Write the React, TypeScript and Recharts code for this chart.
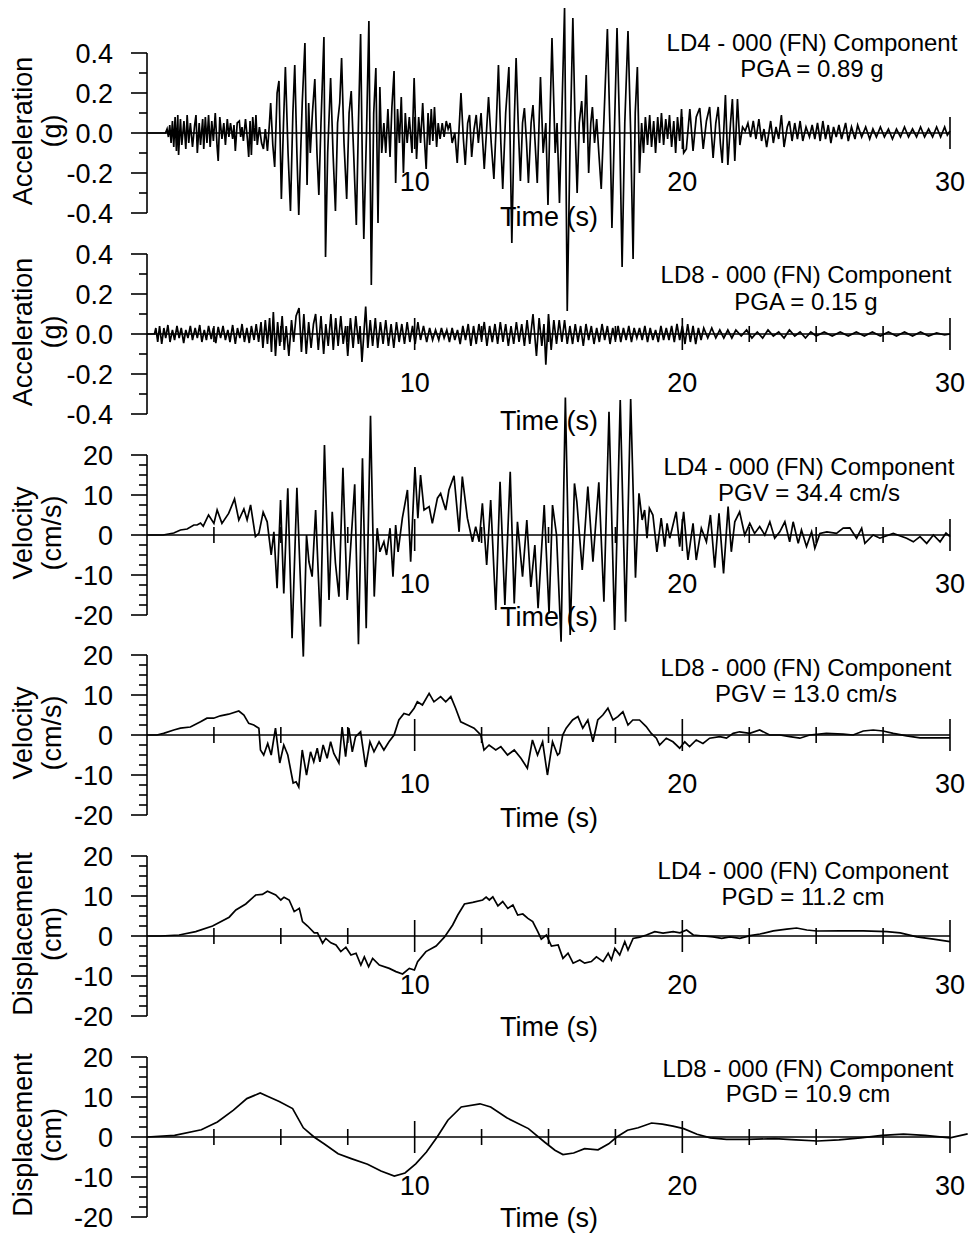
import React from 'react';
import { LineChart, Line, XAxis, YAxis, ReferenceLine } from 'recharts';

// [time (s), value] pairs
const ld4Acc: [number, number][] = [
  [0, 0], [0.69, 0], [0.75, 0.02], [0.8, -0.02], [0.85, 0.04], [0.9, -0.05], [0.95, 0.06], [1.0, -0.07],
  [1.05, 0.08], [1.1, -0.09], [1.15, 0.09], [1.18, -0.11], [1.25, 0.07], [1.3, -0.06], [1.38, 0.06],
  [1.45, -0.08], [1.5, 0.09], [1.56, -0.05], [1.62, 0.05], [1.7, -0.07], [1.78, 0.04], [1.83, 0.09],
  [1.88, -0.1], [1.95, 0.05], [2.0, -0.06], [2.08, 0.07], [2.12, -0.08], [2.18, 0.08], [2.24, -0.05],
  [2.3, 0.09], [2.36, -0.07], [2.42, 0.06], [2.48, -0.04], [2.55, 0.1], [2.62, -0.07], [2.66, -0.14],
  [2.72, 0.08], [2.8, -0.03], [2.87, 0.05], [2.93, -0.06], [3.0, 0.07], [3.06, -0.02], [3.12, 0.05],
  [3.2, -0.03], [3.25, 0.04], [3.3, -0.09], [3.37, 0.05], [3.45, 0.06], [3.5, -0.02], [3.55, 0.03],
  [3.6, -0.04], [3.68, 0.07], [3.75, -0.03], [3.8, -0.12], [3.85, 0.06], [3.9, -0.11], [3.95, 0.08],
  [4.02, -0.04], [4.07, 0.09], [4.12, -0.06], [4.2, 0.03], [4.28, -0.05], [4.35, -0.08], [4.42, 0.02],
  [4.5, -0.09], [4.57, 0.04], [4.62, 0.15], [4.7, -0.06], [4.77, -0.17], [4.86, 0.2], [4.93, 0.26],
  [5.02, -0.33], [5.1, 0.05], [5.17, 0.33], [5.27, -0.1], [5.36, -0.39], [5.45, 0.1], [5.52, 0.34],
  [5.6, -0.1], [5.67, -0.41], [5.74, -0.1], [5.8, 0.15], [5.9, 0.45], [5.98, -0.26], [6.04, 0.15],
  [6.1, -0.1], [6.18, 0.1], [6.27, 0.27], [6.35, -0.1], [6.42, -0.31], [6.5, 0.05], [6.61, 0.48],
  [6.67, -0.62], [6.75, -0.1], [6.86, 0.275], [6.95, -0.1], [7.04, -0.39], [7.12, 0.05], [7.2, 0.15],
  [7.27, 0.375], [7.36, -0.05], [7.46, -0.33], [7.55, 0.1], [7.63, 0.21], [7.72, -0.1], [7.82, -0.46],
  [7.9, 0.05], [7.98, 0.495], [8.05, -0.2], [8.1, -0.53], [8.2, 0.0], [8.29, 0.56], [8.38, -0.76],
  [8.47, 0.1], [8.55, 0.325], [8.63, -0.45], [8.7, 0.23], [8.77, -0.1], [8.85, 0.05], [8.92, -0.1],
  [9.0, 0.12], [9.08, -0.12], [9.15, 0.13], [9.23, 0.31], [9.29, -0.25], [9.36, 0.12], [9.43, -0.05],
  [9.5, 0.18], [9.58, -0.2], [9.65, 0.1], [9.72, -0.05], [9.8, 0.08], [9.9, -0.1], [9.98, 0.275],
  [10.07, -0.13], [10.15, 0.08], [10.22, -0.05], [10.3, 0.15], [10.36, -0.02], [10.43, -0.18], [10.5, 0.1],
  [10.56, -0.06], [10.62, 0.12], [10.68, -0.04], [10.74, 0.13], [10.82, -0.07], [10.88, 0.05], [10.95, -0.03],
  [11.03, 0.05], [11.1, -0.02], [11.18, 0.06], [11.25, 0.02], [11.32, 0.05], [11.4, -0.05], [11.5, 0.0],
  [11.59, -0.15], [11.73, 0.2], [11.82, -0.03], [11.89, -0.16], [11.98, 0.05], [12.05, 0.09], [12.13, -0.12],
  [12.22, 0.02], [12.3, 0.09], [12.38, -0.05], [12.48, 0.1], [12.6, -0.18], [12.76, 0.18], [12.86, -0.05],
  [12.96, -0.23], [13.05, 0.05], [13.13, 0.34], [13.22, -0.05], [13.29, -0.28], [13.4, 0.1], [13.52, 0.33],
  [13.63, -0.55], [13.72, 0.05], [13.79, 0.375], [13.88, 0.0], [13.95, -0.24], [14.03, 0.05], [14.1, 0.125],
  [14.18, -0.05], [14.25, -0.25], [14.35, 0.05], [14.42, 0.14], [14.5, -0.05], [14.58, -0.25], [14.7, 0.28],
  [14.8, -0.1], [14.9, 0.05], [14.98, -0.36], [15.06, 0.1], [15.13, 0.475], [15.25, -0.1], [15.32, 0.05],
  [15.41, -0.35], [15.5, 0.1], [15.6, 0.625], [15.7, -0.89], [15.8, -0.1], [15.91, 0.575], [16.0, 0.0],
  [16.07, -0.3], [16.15, 0.05], [16.24, 0.16], [16.32, -0.05], [16.41, 0.29], [16.5, -0.2], [16.58, 0.05],
  [16.64, 0.13], [16.72, -0.05], [16.8, 0.07], [16.88, -0.1], [16.97, -0.28], [17.08, 0.1], [17.2, 0.52],
  [17.3, 0.0], [17.37, -0.475], [17.47, 0.05], [17.56, 0.525], [17.66, 0.0], [17.75, -0.67], [17.85, 0.05],
  [17.97, 0.51], [18.07, 0.0], [18.16, -0.63], [18.24, 0.1], [18.32, 0.33], [18.4, -0.2], [18.48, 0.05],
  [18.55, -0.1], [18.62, 0.08], [18.7, -0.06], [18.78, 0.09], [18.85, -0.07], [18.93, 0.06], [19.0, -0.1],
  [19.08, 0.08], [19.15, -0.05], [19.22, 0.1], [19.3, -0.06], [19.38, 0.07], [19.45, -0.03], [19.52, 0.09],
  [19.6, -0.07], [19.68, 0.06], [19.75, -0.1], [19.82, 0.08], [19.9, -0.04], [19.97, 0.12], [20.05, -0.1],
  [20.15, -0.08], [20.28, 0.12], [20.4, -0.09], [20.52, 0.08], [20.65, 0.125], [20.78, -0.08], [20.9, 0.06],
  [21.02, 0.13], [21.15, -0.125], [21.25, 0.05], [21.34, 0.13], [21.42, -0.05], [21.49, -0.15], [21.61, 0.19],
  [21.7, -0.16], [21.8, 0.05], [21.87, 0.17], [21.96, -0.14], [22.06, 0.17], [22.15, -0.06], [22.25, 0.03],
  [22.35, 0.01], [22.45, 0.05], [22.55, -0.02], [22.65, 0.06], [22.75, -0.03], [22.86, 0.07], [22.96, -0.04],
  [23.05, 0.02], [23.15, -0.07], [23.3, 0.06], [23.4, -0.05], [23.5, 0.03], [23.6, -0.03], [23.7, 0.09],
  [23.8, -0.07], [23.92, 0.03], [24.0, 0.06], [24.1, -0.04], [24.2, 0.05], [24.3, -0.03], [24.4, 0.06],
  [24.5, -0.04], [24.62, 0.03], [24.75, -0.02], [24.85, 0.04], [24.95, -0.03], [25.05, 0.05], [25.15, -0.04],
  [25.25, 0.06], [25.35, -0.03], [25.45, 0.04], [25.55, -0.05], [25.65, 0.03], [25.75, -0.02], [25.85, 0.04],
  [25.95, -0.03], [26.1, 0.05], [26.2, -0.04], [26.32, 0.03], [26.45, -0.03], [26.55, 0.04], [26.7, -0.02],
  [26.85, 0.03], [27.0, -0.03], [27.12, 0.02], [27.25, -0.02], [27.4, 0.03], [27.55, -0.02], [27.7, 0.02],
  [27.85, -0.03], [28.0, 0.02], [28.15, -0.02], [28.3, 0.03], [28.45, -0.02], [28.6, 0.02], [28.75, -0.02],
  [28.9, 0.03], [29.05, -0.02], [29.2, 0.02], [29.35, -0.02], [29.5, 0.03], [29.65, -0.02], [29.8, 0.03],
  [29.9, -0.01], [30.0, 0.01],
];

const ld8Acc: [number, number][] = [
  [0, 0], [0.28, 0], [0.33, 0.03], [0.4, -0.04], [0.47, 0.04], [0.55, -0.05], [0.63, 0.03], [0.7, -0.02],
  [0.78, 0.045], [0.86, -0.04], [0.95, 0.02], [1.03, -0.03], [1.12, 0.04], [1.2, -0.02], [1.28, 0.03],
  [1.37, -0.045], [1.45, 0.02], [1.53, -0.02], [1.62, 0.04], [1.7, -0.03], [1.8, 0.03], [1.88, -0.02],
  [1.97, 0.045], [2.05, -0.04], [2.14, 0.02], [2.22, -0.03], [2.3, 0.04], [2.4, -0.025], [2.48, 0.03],
  [2.57, -0.045], [2.66, 0.035], [2.75, -0.02], [2.84, 0.04], [2.93, -0.03], [3.02, 0.02], [3.1, -0.04],
  [3.2, 0.045], [3.3, -0.05], [3.38, 0.03], [3.47, -0.02], [3.55, 0.05], [3.64, -0.04], [3.73, 0.03],
  [3.82, -0.045], [3.9, 0.04], [4.0, -0.03], [4.08, 0.05], [4.17, -0.04], [4.26, 0.06], [4.33, -0.07],
  [4.42, 0.07], [4.5, -0.05], [4.58, 0.08], [4.65, -0.09], [4.72, 0.11], [4.8, -0.11], [4.88, 0.06],
  [4.96, -0.06], [5.05, 0.09], [5.13, -0.08], [5.2, 0.04], [5.3, -0.11], [5.4, 0.07], [5.48, -0.04],
  [5.57, 0.09], [5.68, 0.13], [5.77, -0.09], [5.86, 0.1], [5.95, -0.1], [6.04, 0.06], [6.13, -0.07],
  [6.22, 0.05], [6.3, 0.1], [6.4, -0.08], [6.5, 0.09], [6.6, -0.1], [6.68, 0.05], [6.77, -0.06], [6.87, 0.1],
  [6.96, -0.08], [7.05, 0.08], [7.14, -0.06], [7.24, 0.09], [7.33, -0.05], [7.42, 0.04], [7.5, -0.11],
  [7.6, 0.08], [7.7, -0.07], [7.8, 0.09], [7.9, -0.05], [7.96, 0.04], [8.03, -0.14], [8.17, 0.137],
  [8.25, -0.07], [8.34, 0.07], [8.43, -0.06], [8.53, 0.08], [8.62, -0.07], [8.72, 0.06], [8.82, -0.05],
  [8.92, 0.07], [9.02, -0.06], [9.12, 0.05], [9.22, -0.07], [9.32, 0.06], [9.42, -0.04], [9.52, 0.05],
  [9.62, -0.05], [9.72, 0.06], [9.82, -0.04], [9.92, 0.04], [10.02, -0.05], [10.12, 0.06], [10.22, -0.03],
  [10.33, 0.04], [10.45, -0.04], [10.56, 0.03], [10.67, -0.03], [10.78, 0.02], [10.9, -0.03], [11.0, 0.03],
  [11.1, -0.02], [11.2, 0.02], [11.3, -0.04], [11.4, 0.03], [11.5, -0.03], [11.6, 0.02], [11.7, -0.05],
  [11.8, 0.04], [11.9, -0.03], [12.0, 0.05], [12.1, -0.06], [12.2, 0.04], [12.3, -0.05], [12.4, 0.05],
  [12.5, -0.03], [12.6, 0.06], [12.7, -0.06], [12.8, 0.04], [12.9, -0.04], [13.0, 0.05], [13.1, -0.05],
  [13.2, 0.06], [13.3, -0.04], [13.4, 0.05], [13.5, -0.06], [13.6, 0.04], [13.7, -0.05], [13.8, 0.06],
  [13.9, -0.04], [14.0, 0.05], [14.1, -0.06], [14.2, 0.07], [14.3, -0.05], [14.42, 0.1], [14.55, -0.11],
  [14.65, 0.08], [14.75, -0.06], [14.83, 0.05], [14.9, -0.153], [15.0, 0.1], [15.1, -0.08], [15.2, 0.07],
  [15.3, -0.05], [15.4, 0.07], [15.5, -0.04], [15.6, 0.07], [15.7, -0.05], [15.8, 0.04], [15.9, -0.05],
  [16.0, 0.05], [16.1, -0.04], [16.2, 0.04], [16.3, -0.06], [16.4, 0.05], [16.5, -0.03], [16.6, 0.04],
  [16.7, -0.05], [16.8, 0.03], [16.9, -0.04], [17.0, 0.05], [17.1, -0.03], [17.2, 0.04], [17.3, -0.05],
  [17.4, 0.03], [17.5, -0.03], [17.6, 0.04], [17.7, -0.04], [17.8, 0.03], [17.9, -0.03], [18.0, 0.04],
  [18.1, -0.04], [18.2, 0.03], [18.3, -0.02], [18.4, 0.03], [18.5, -0.03], [18.6, 0.04], [18.7, -0.04],
  [18.8, 0.03], [18.9, -0.03], [19.0, 0.02], [19.1, -0.04], [19.2, 0.04], [19.3, -0.03], [19.4, 0.03],
  [19.5, -0.03], [19.6, 0.04], [19.7, -0.04], [19.8, 0.05], [19.9, -0.03], [20.0, 0.04], [20.1, -0.05],
  [20.2, 0.05], [20.3, -0.04], [20.4, 0.04], [20.5, -0.05], [20.6, 0.03], [20.7, -0.03], [20.8, 0.03],
  [20.95, -0.02], [21.1, 0.03], [21.25, -0.02], [21.4, 0.02], [21.55, -0.02], [21.7, 0.02], [21.85, -0.02],
  [22.0, 0.02], [22.2, -0.01], [22.4, 0.02], [22.6, -0.02], [22.8, 0.01], [23.0, -0.02], [23.2, 0.02],
  [23.4, -0.01], [23.6, 0.01], [23.8, -0.02], [24.0, 0.02], [24.2, -0.01], [24.4, 0.01], [24.6, -0.02],
  [24.8, 0.01], [25.0, -0.01], [25.3, 0.01], [25.6, -0.01], [25.9, 0.01], [26.2, -0.01], [26.5, 0.01],
  [26.8, -0.01], [27.1, 0.01], [27.4, -0.01], [27.7, 0.01], [28.0, -0.01], [28.3, 0.01], [28.6, -0.01],
  [28.9, 0.01], [29.2, -0.01], [29.5, 0.005], [29.8, -0.005], [30.0, 0],
];

const ld4Vel: [number, number][] = [
  [0, 0], [0.6, 0], [1.0, 0.5], [1.25, 1.25], [1.5, 1.5], [1.75, 2.5], [1.87, 2.5], [2.0, 3], [2.1, 2.2],
  [2.3, 5], [2.5, 2.9], [2.62, 6.25], [2.8, 2.9], [3.05, 5.4], [3.27, 9], [3.43, 3.75], [3.62, 6.5],
  [3.74, 3.75], [3.87, 7.5], [4.05, -0.4], [4.18, 0.4], [4.34, 5.7], [4.49, 3.3], [4.64, -5], [4.74, 0.8],
  [4.86, -13.3], [4.99, 8.75], [5.11, -14.6], [5.26, 11.7], [5.42, -25.8], [5.6, 11.8], [5.84, -30.4],
  [5.96, 0], [6.05, -6.7], [6.17, -10.4], [6.3, 6.25], [6.48, -22.9], [6.63, 22.5], [6.8, -16.25],
  [6.92, 5.8], [7.04, -7], [7.17, -15.4], [7.32, 16.8], [7.48, -16.25], [7.76, 12.7], [7.9, -27.3],
  [8.05, 19.2], [8.19, -23.3], [8.35, 29.8], [8.49, -15.4], [8.6, 1.7], [8.7, -4.2], [8.85, -1.7],
  [8.95, -5], [9.08, 1.7], [9.19, -10.4], [9.29, 2.5], [9.38, -4.2], [9.54, 4.2], [9.73, 11.25],
  [9.85, -6.7], [10.01, 17], [10.12, 4.2], [10.22, 15], [10.35, 6.25], [10.54, 7.1], [10.66, 2.9],
  [10.85, 9.2], [10.97, 10.4], [11.16, 6.25], [11.28, 11.25], [11.47, 14.8], [11.66, 0.8], [11.78, 14.6],
  [11.97, 4.2], [12.16, -1.7], [12.28, 2.1], [12.41, -1.7], [12.53, 7.9], [12.69, -7.5], [12.84, 8.75],
  [13.03, -18.75], [13.19, 13.3], [13.37, -17.5], [13.57, 15.8], [13.72, -17.1], [13.84, 3.3],
  [14.03, -10.4], [14.19, 3.75], [14.34, -13], [14.49, -2.5], [14.61, -18.3], [14.84, 7.5], [15.02, -19.6],
  [15.15, 7.5], [15.3, 0], [15.47, -26.7], [15.63, 34.4], [15.81, -25], [15.97, 12.9], [16.06, 8.3],
  [16.26, -8.75], [16.47, 12.1], [16.66, -6.7], [16.88, 13.2], [17.07, -16.7], [17.26, 30.8],
  [17.47, -23.75], [17.68, 33.75], [17.88, -21.7], [18.07, 34.0], [18.25, -10.7], [18.38, 10.4],
  [18.5, 3.75], [18.59, 6.25], [18.68, -0.8], [18.77, 6.7], [18.9, 5], [19.05, -4.2], [19.21, 4.2],
  [19.34, -2.9], [19.43, 2.9], [19.53, -0.8], [19.77, 5.8], [19.9, -2.9], [20.05, 5.8], [20.21, -6.25],
  [20.4, 2.9], [20.52, -6.25], [20.71, 1.7], [20.9, -1.7], [21.05, 5], [21.21, -8.2], [21.37, 5.4],
  [21.54, -9.6], [21.71, 7.1], [21.83, -4.2], [21.96, 3.3], [22.14, 5.8], [22.33, 0], [22.52, 2.9],
  [22.7, 0.4], [22.89, 2.1], [23.08, 0], [23.27, 3.3], [23.45, -0.8], [23.64, 0.8], [23.83, 3.3],
  [24.01, -1.7], [24.14, 3.3], [24.33, -2.1], [24.45, 1.25], [24.64, -2.9], [24.83, 0.8], [24.95, -3.3],
  [25.14, 0.4], [25.4, 0.8], [25.76, 0.4], [26.01, 1.7], [26.26, 1.8], [26.51, -0.8], [26.7, 1.7],
  [26.82, -2.1], [27.13, 0], [27.38, -0.8], [27.88, 0.4], [28.38, -0.8], [28.63, -1.7], [28.88, -0.4],
  [29.13, -2.1], [29.38, 0], [29.63, -1.7], [29.85, 0.5], [30.0, -0.4],
];

const ld8Vel: [number, number][] = [
  [0, 0], [0.37, 0], [0.62, 0.4], [1.0, 1.25], [1.25, 1.7], [1.62, 2], [2.0, 3.3], [2.24, 4.2], [2.49, 4.2],
  [2.74, 4.8], [3.05, 5.2], [3.43, 6], [3.62, 5], [3.8, 2.9], [3.99, 2.5], [4.18, 1.7], [4.24, -3.75],
  [4.36, -5], [4.51, -2.1], [4.64, -5], [4.8, 1.7], [4.96, -7], [5.11, -2.5], [5.26, -5], [5.46, -12],
  [5.57, -11.7], [5.67, -13], [5.8, -3.75], [5.96, -10], [6.11, -4.2], [6.23, -6.7], [6.36, -3.3],
  [6.46, -6.7], [6.58, -2.5], [6.73, -5.8], [6.86, -1.7], [6.98, -4.6], [7.17, -7], [7.29, 2], [7.42, -5.4],
  [7.54, 1.7], [7.67, -4.2], [7.79, -0.4], [7.98, 0.8], [8.17, -8], [8.33, -1.7], [8.48, -4.2], [8.67, -1.7],
  [8.85, -3.75], [9.04, -1.7], [9.23, 0], [9.41, 3.75], [9.6, 5.4], [9.79, 5], [9.98, 6.7], [10.1, 8.3],
  [10.29, 7.5], [10.54, 10.4], [10.72, 8.3], [10.97, 9.6], [11.16, 8.3], [11.35, 9.6], [11.53, 6.7],
  [11.72, 3.3], [11.97, 2.5], [12.22, 1.7], [12.47, 0], [12.59, -3.75], [12.78, -2.5], [13.03, -3.75],
  [13.22, -2.9], [13.47, -5], [13.72, -3.75], [13.97, -5.8], [14.21, -8.3], [14.4, -1.25], [14.59, -5],
  [14.78, -1.7], [14.96, -10], [15.15, -1.7], [15.34, -5], [15.41, -4.6], [15.53, 0], [15.66, 1.7],
  [15.9, 3.75], [16.1, 4.6], [16.28, 1.7], [16.47, 3.75], [16.66, -1.7], [16.84, 3.75], [17.03, 5],
  [17.22, 6.7], [17.41, 3.75], [17.59, 4.6], [17.78, 5.8], [17.97, 2.5], [18.15, 3.75], [18.4, 3.75],
  [18.65, 2.1], [18.84, 0.4], [19.03, -0.8], [19.15, -2.5], [19.4, -0.8], [19.65, -1.7], [19.9, -3.3],
  [20.09, -1.7], [20.27, -2.9], [20.52, -1.25], [20.77, -2.1], [21.02, -0.8], [21.4, -0.4], [21.65, -0.8],
  [21.9, 0.4], [22.14, 0.8], [22.52, 0.4], [22.89, 1.25], [23.26, 0], [23.64, 0], [24.01, -0.4],
  [24.39, -0.8], [24.76, 0], [25.38, 0.4], [26.01, 0.2], [26.38, 0], [26.76, 1], [27.13, 1.25], [27.5, 1],
  [27.88, 0.4], [28.38, -0.2], [28.88, -0.7], [29.38, -0.7], [30.0, -0.7],
];

const ld4Disp: [number, number][] = [
  [0, 0], [0.5, 0], [1.2, 0.25], [1.82, 1.1], [2.45, 2.5], [3.07, 4.7], [3.32, 6.5], [3.69, 8], [4.06, 10.25],
  [4.31, 10.4], [4.5, 11.2], [4.81, 10.25], [5.0, 9], [5.12, 9.7], [5.31, 9], [5.5, 6.1], [5.69, 6.9],
  [5.81, 3.6], [6.0, 2.5], [6.25, 0.8], [6.37, 0.8], [6.56, -1.8], [6.68, -0.6], [6.87, -1.7], [7.06, -2.25],
  [7.24, -3.9], [7.43, -2.8], [7.62, -4.75], [7.81, -4.3], [7.99, -7.25], [8.12, -5.2], [8.28, -7.7],
  [8.43, -5.6], [8.68, -7.25], [9.05, -8.1], [9.3, -8.9], [9.55, -9.5], [9.8, -8.1], [9.99, -8.5],
  [10.11, -6.4], [10.42, -3.9], [10.8, -2.5], [11.11, -0.3], [11.42, 2.75], [11.61, 5.25], [11.86, 8],
  [12.17, 8.4], [12.54, 9], [12.67, 9.7], [12.79, 9], [12.92, 9.8], [13.11, 7.5], [13.29, 8.6], [13.48, 6.9],
  [13.67, 7.75], [13.85, 5.25], [14.04, 5.5], [14.23, 4.4], [14.41, 3.6], [14.6, 1.1], [14.73, -0.8],
  [14.92, 0.25], [15.11, -2.5], [15.36, -2.25], [15.54, -5.6], [15.73, -4.3], [15.92, -6.8], [16.17, -6],
  [16.35, -6.8], [16.6, -6.4], [16.79, -5.2], [17.04, -6.4], [17.23, -4.3], [17.35, -6], [17.48, -3.1],
  [17.66, -4.75], [17.85, -1.4], [17.97, -3.5], [18.16, -0.6], [18.41, -0.3], [18.66, 0.25], [18.97, 1.1],
  [19.28, 0.7], [19.66, 1.1], [19.91, 0.8], [20.16, 1.5], [20.41, 0.25], [20.78, 0], [21.15, -0.2],
  [21.47, -0.6], [21.78, -0.2], [22.15, -0.6], [22.53, 0.1], [22.9, 0.5], [23.4, 1.3], [23.9, 1.7],
  [24.27, 2], [24.65, 1.5], [25.02, 1.25], [25.9, 1.3], [26.76, 1.3], [27.64, 1.1], [28.14, 0.8],
  [28.76, -0.2], [29.38, -0.8], [30.0, -1.4],
];

const ld8Disp: [number, number][] = [
  [0, 0], [1.03, 0.4], [2.03, 1.8], [2.63, 3.75], [3.23, 6.7], [3.73, 9.6], [4.23, 11], [4.5, 10.2],
  [4.94, 8.9], [5.44, 7.1], [5.84, 2.3], [6.24, 0], [6.64, -1.8], [7.14, -4.2], [7.63, -5.4], [8.24, -6.8],
  [8.74, -8.5], [9.24, -9.75], [9.64, -9], [10.04, -6.7], [10.44, -3.75], [10.84, 0], [11.24, 4.2],
  [11.74, 7.5], [12.44, 8.3], [12.84, 7.5], [13.44, 4.8], [14.25, 2.1], [14.85, -1.25], [15.24, -3.3],
  [15.54, -4.4], [15.94, -4], [16.35, -2.9], [16.85, -3.2], [17.25, -1.7], [17.55, 0], [17.95, 1.7],
  [18.35, 2.3], [18.85, 3.5], [19.25, 3.2], [19.65, 2.7], [20.05, 2.1], [20.55, 0.7], [21.05, -0.2],
  [21.65, -0.6], [22.45, -0.6], [23.45, -0.4], [24.25, -0.7], [25.05, -1], [25.85, -0.7], [26.66, -0.2],
  [27.46, 0.4], [28.26, 0.7], [29.06, 0.4], [30.0, -0.2], [30.66, 0.8],
];

const accTicks = [-0.4, -0.3, -0.2, -0.1, 0, 0.1, 0.2, 0.3, 0.4];
const accMajor = [-0.4, -0.2, 0, 0.2, 0.4];
const cmTicks = [-20, -17.5, -15, -12.5, -10, -7.5, -5, -2.5, 0, 2.5, 5, 7.5, 10, 12.5, 15, 17.5, 20];
const cmMajor = [-20, -10, 0, 10, 20];
const timeTicks = [2.5, 5, 7.5, 10, 12.5, 15, 17.5, 20, 22.5, 25, 27.5, 30];
const timeMajor = [10, 20, 30];

const FONT = '"Liberation Sans", Arial, Helvetica, sans-serif';
const HALF = 80; // half height of each plot frame
const AXIS_H = 20; // room given to the x axis under each frame

const panels = [
  { pts: ld4Acc, lim: 0.4, yTicks: accTicks, yMajor: accMajor, xTicks: timeMajor, fmt: (v: number) => v.toFixed(1),
    label: ['Acceleration', '(g)'], title: 'LD4 - 000 (FN) Component', peak: 'PGA = 0.89 g',
    zero: 133, titleX: 812, titleY: [-82, -56], timeY: 93 },
  { pts: ld8Acc, lim: 0.4, yTicks: accTicks, yMajor: accMajor, xTicks: timeTicks, fmt: (v: number) => v.toFixed(1),
    label: ['Acceleration', '(g)'], title: 'LD8 - 000 (FN) Component', peak: 'PGA = 0.15 g',
    zero: 334, titleX: 806, titleY: [-51, -24], timeY: 96 },
  { pts: ld4Vel, lim: 20, yTicks: cmTicks, yMajor: cmMajor, xTicks: timeTicks, fmt: (v: number) => String(v),
    label: ['Velocity', '(cm/s)'], title: 'LD4 - 000 (FN) Component', peak: 'PGV = 34.4 cm/s',
    zero: 535, titleX: 809, titleY: [-60, -34], timeY: 91 },
  { pts: ld8Vel, lim: 20, yTicks: cmTicks, yMajor: cmMajor, xTicks: timeTicks, fmt: (v: number) => String(v),
    label: ['Velocity', '(cm/s)'], title: 'LD8 - 000 (FN) Component', peak: 'PGV = 13.0 cm/s',
    zero: 735, titleX: 806, titleY: [-59, -33], timeY: 92 },
  { pts: ld4Disp, lim: 20, yTicks: cmTicks, yMajor: cmMajor, xTicks: timeTicks, fmt: (v: number) => String(v),
    label: ['Displacement', '(cm)'], title: 'LD4 - 000 (FN) Component', peak: 'PGD = 11.2 cm',
    zero: 936, titleX: 803, titleY: [-57, -31], timeY: 100 },
  { pts: ld8Disp, lim: 20, yTicks: cmTicks, yMajor: cmMajor, xTicks: timeTicks, fmt: (v: number) => String(v),
    label: ['Displacement', '(cm)'], title: 'LD8 - 000 (FN) Component', peak: 'PGD = 10.9 cm',
    zero: 1137, titleX: 808, titleY: [-60, -35], timeY: 90 },
];

const ValueTick = (props: any) => {
  const { x, y, payload, major, fmt } = props;
  const isMajor = major.includes(payload.value);
  return (
    <g>
      <line x1={x - (isMajor ? 16 : 8)} x2={x} y1={y} y2={y} stroke="#000" strokeWidth={1.6} />
      {isMajor && (
        <text x={x - 34} y={y + 10} textAnchor="end" fontSize={27} fontFamily={FONT} fill="#000">
          {fmt(payload.value)}
        </text>
      )}
    </g>
  );
};

// tick marks sit on the zero line, labels under it; y here is the bottom of the frame
const TimeTick = (props: any) => {
  const { x, y, payload, timeY } = props;
  const isMajor = timeMajor.includes(payload.value);
  const zy = y - HALF;
  const h = isMajor ? 16 : 8;
  return (
    <g>
      <line x1={x} x2={x} y1={zy - h} y2={zy + h} stroke="#000" strokeWidth={1.6} />
      {isMajor && (
        <text x={x} y={zy + 58} textAnchor="middle" fontSize={27} fontFamily={FONT} fill="#000">
          {payload.value}
        </text>
      )}
      {payload.value === 30 && (
        <text x={x - 401} y={zy + timeY} textAnchor="middle" fontSize={27} fontFamily={FONT} fill="#000">
          Time (s)
        </text>
      )}
    </g>
  );
};

const Panel = ({ cfg }: { cfg: (typeof panels)[number] }) => {
  const data = cfg.pts.map(([t, v]) => ({ t, v }));
  return (
    <div style={{ position: 'absolute', left: 0, top: cfg.zero - 100 }}>
      <LineChart width={972} height={200 + AXIS_H} data={data} margin={{ top: 20, right: 22, bottom: 20, left: 0 }}>
        <XAxis
          dataKey="t"
          type="number"
          domain={[0, 30]}
          allowDataOverflow
          ticks={cfg.xTicks}
          interval={0}
          height={AXIS_H}
          tickSize={0}
          tickMargin={0}
          axisLine={false}
          tickLine={false}
          tick={(p: any) => <TimeTick {...p} timeY={cfg.timeY} />}
        />
        <YAxis
          type="number"
          domain={[-cfg.lim, cfg.lim]}
          allowDataOverflow
          ticks={cfg.yTicks}
          interval={0}
          width={147}
          tickSize={0}
          tickMargin={0}
          tickLine={false}
          axisLine={{ stroke: '#000', strokeWidth: 1.6 }}
          tick={(p: any) => <ValueTick {...p} major={cfg.yMajor} fmt={cfg.fmt} />}
        />
        <ReferenceLine y={0} stroke="#000" strokeWidth={1.6} />
        <Line type="linear" dataKey="v" stroke="#000" strokeWidth={1.7} dot={false} isAnimationActive={false} />
      </LineChart>
    </div>
  );
};

export default function App() {
  return (
    <div style={{ position: 'absolute', left: 0, top: 0, width: 972, height: 1234, background: '#fff', fontFamily: FONT }}>
      <style>{`.recharts-surface{overflow:visible}.recharts-surface *{clip-path:none !important}`}</style>
      {panels.map((cfg, i) => (
        <Panel key={i} cfg={cfg} />
      ))}
      <svg width={972} height={1234} style={{ position: 'absolute', left: 0, top: 0, pointerEvents: 'none' }}>
        {panels.map((cfg, i) => (
          <g key={i} fontFamily={FONT} fill="#000">
            <text x={32} y={cfg.zero - 2} fontSize={27} textAnchor="middle" transform={`rotate(-90 32 ${cfg.zero - 2})`}>
              {cfg.label[0]}
            </text>
            <text x={61} y={cfg.zero - 2} fontSize={27} textAnchor="middle" transform={`rotate(-90 61 ${cfg.zero - 2})`}>
              {cfg.label[1]}
            </text>
            <text x={cfg.titleX} y={cfg.zero + cfg.titleY[0]} fontSize={24} textAnchor="middle">
              {cfg.title}
            </text>
            <text x={cfg.titleX} y={cfg.zero + cfg.titleY[1]} fontSize={24} textAnchor="middle">
              {cfg.peak}
            </text>
          </g>
        ))}
      </svg>
    </div>
  );
}
